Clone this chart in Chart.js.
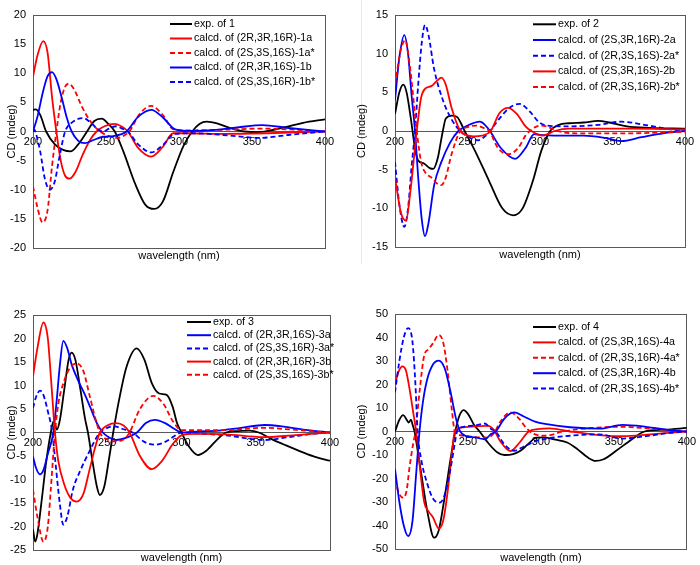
<!DOCTYPE html>
<html>
<head>
<meta charset="utf-8">
<script src="https://cdn.jsdelivr.net/npm/chart.js@4"></script>
<style>
  body { margin: 0; background: #fff; }
  #wrap { position: relative; width: 700px; height: 565px; overflow: hidden; }
  canvas { position: absolute; }
  #sep { position: absolute; left: 361px; top: 0; width: 1px; height: 264px; background: #ebebeb; }
</style>
</head>
<body>
<div id="wrap">
  <div id="sep"></div>
  <canvas id="c1" style="left:0;top:0"></canvas>
  <canvas id="c2" style="left:350px;top:0"></canvas>
  <canvas id="c3" style="left:0;top:270px"></canvas>
  <canvas id="c4" style="left:350px;top:270px"></canvas>
</div>
<script>
// CD spectra, [wavelength nm, CD mdeg]

// panel 1
const exp1 = [[200,3.7],[202,3.8],[205,2.8],[209,0],[215,-2.2],[221,-3.2],[226,-3.4],[231,-2.2],[237,0],[242,1.8],[247,2.2],[252,1.2],[256,0],[262,-3.5],[270,-9],[277,-12.6],[283,-13.3],[289,-12],[296,-7],[303,-2.5],[309,0],[314,1.3],[319,1.7],[326,1.4],[335,0.6],[345,0],[355,-0.1],[365,0.3],[375,0.9],[385,1.5],[400,2.1]];
const calc1a = [[200,9.4],[203,13],[207,15.5],[210,13.5],[213,6],[216,0],[219,-5],[222,-7.6],[225,-8.1],[229,-7],[234,-4],[239,-1.5],[243.5,0],[249,0.9],[256,1.3],[261,0.8],[265,0],[272,-2.8],[281,-4.3],[289,-2.6],[296,-0.3],[305,-0.3],[330,-0.4],[360,-0.3],[400,0]];
const calc1aS = [[200,-9.4],[203,-13],[206.5,-15.6],[210,-13.5],[213,-6],[216,0],[219,5],[222,7.7],[224.5,8.2],[228,7.3],[234,4],[240,1.5],[246,0],[252,-0.8],[258,-1.1],[263,-0.6],[266,0],[273,3],[281,4.4],[289,2.8],[296,0.4],[305,0.2],[330,0.3],[355,0.5],[380,0.3],[400,0]];
const calc1b = [[200,0],[203,2.5],[207,7],[210,9.5],[213,10.2],[216,9],[220,5.5],[223,2.5],[226.5,0],[231,-1.6],[235.5,-2.0],[241,-1.5],[248,-0.9],[255,-0.8],[260,-0.5],[264,0],[272,2.5],[281,3.7],[289,2.4],[297,0.4],[305,0.1],[320,0.2],[340,0.7],[357,1.1],[375,0.6],[400,0]];
const calc1bS = [[200,0],[201,0.3],[202,-0.3],[205,-3.5],[208,-8],[211.5,-10],[215,-8.5],[218,-4.5],[222,0],[227,1.6],[234.5,2.3],[240,1.4],[245,0.3],[248,0],[252,0.5],[257,0.9],[261,0.5],[265,0],[272,-2.2],[281,-3.6],[289,-2.3],[297,-0.4],[310,-0.3],[335,-0.7],[355,-1.1],[375,-0.6],[400,0]];

// panel 2
const exp2 = [[200,2.2],[203,5],[205.7,6],[208,5],[211,1.5],[214,-2.5],[216,-3.8],[220,-4.2],[224,-4.8],[226.4,-4.9],[229.5,-3.5],[231.5,-1.5],[233,0],[235,1.6],[239,2.0],[243,1.8],[245.5,1.0],[248,0],[255,-2.5],[265,-6.5],[274,-10],[281.6,-10.9],[288,-10],[295,-6.5],[301,-2.5],[307,0],[313,0.8],[320,1.0],[330,1.1],[340,1.3],[348,1.1],[360,0.6],[375,0.4],[400,0.3]];
const calc2a = [[200,4],[203,9.5],[206.4,12.4],[209,10],[211.5,4.5],[213.8,0],[216,-6],[218.5,-11.5],[220.7,-13.6],[223,-12],[227,-7],[232,-4],[238,-1.5],[243.7,0],[250,0.7],[258.6,1.2],[262,0.8],[265.5,0],[273,-2.2],[282.8,-3.6],[290,-2.2],[296,-0.4],[300,-0.5],[310,-0.6],[330,-0.6],[345,-0.9],[356,-1.3],[370,-0.8],[385,-0.3],[400,0]];
const calc2aS = [[200,-4],[203,-9.5],[206.4,-12.4],[209,-10],[211.5,-4.5],[213.8,0],[216,6],[218.5,11.5],[220.7,13.7],[223,12.5],[227,8],[233,4],[239,1.5],[245,0],[251,-0.8],[257.5,-1.2],[262,-0.7],[265.5,0],[272,1.6],[279,3.0],[286,3.5],[293,2.5],[299,1.2],[305,0.7],[320,0.6],[340,0.8],[356,1.2],[375,0.7],[390,0.2],[400,0]];
const calc2b = [[200,-6],[204,-10.5],[207.6,-11.6],[210.5,-8],[215,0],[218,4.3],[221,5.5],[225,5.8],[229,6.5],[232,6.9],[235,6],[239,3],[245,0],[249,-0.5],[254,-0.7],[260,-0.6],[266,0],[272,2.3],[278,3.0],[284,2.2],[290,0.6],[294,0],[302,-0.6],[310,0],[320,0.3],[360,0.3],[400,0.2]];
const calc2bS = [[200,6],[204,10.5],[207,11.7],[210.5,8],[215,0],[218,-4],[221,-5.4],[225,-6],[229,-6.8],[232,-7.0],[235,-6],[239,-3],[245,0],[250,0.5],[256,0.7],[261,0.4],[265,0],[271,-2.2],[278,-3.0],[285,-2.2],[290,-0.6],[293,0],[300,0.7],[306,0.5],[312,0],[325,-0.3],[360,-0.3],[400,-0.1]];

// panel 3
const exp3 = [[200,-20.6],[201.5,-23.2],[203,-21.5],[206,-14],[209,-6],[212,0],[213.7,2.3],[215,1.5],[216,0.6],[218,2.5],[221,9],[224,15.5],[226,17],[228.5,15.5],[232,9],[235,3],[237,0],[240,-6],[243,-11.5],[245,-13.3],[248,-11.5],[251,-6],[254,0],[258,7],[263,14],[269.8,17.9],[275,15.5],[280,10.5],[285,8.3],[290,8.0],[294,5.5],[297,2],[300,0],[305,-3],[311,-4.8],[317,-3.8],[324,-1.5],[330,0],[338,0.3],[346,0.4],[352,0],[360,-1.3],[370,-2.7],[380,-4.0],[390,-5.2],[400,-6.0]];
const calc3a = [[200,-5.1],[202,-7.5],[204.7,-8.9],[207,-8],[210,-4.5],[213.7,0],[216,7],[218,14],[220.4,19.5],[223,18],[226,14.5],[230.5,11],[235,8],[238.4,5.5],[243,2],[247,0],[251,-1],[256,-1.6],[262,-1.2],[270,0],[276,2],[282,2.7],[289,2],[295,0.8],[300,0],[310,0.2],[325,0.4],[340,1.0],[356,1.6],[370,1.2],[385,0.5],[400,0]];
const calc3aS = [[200,5.2],[202,7.5],[204.7,8.9],[207,8],[210,4.5],[213,0],[215,-6],[218,-15],[220.4,-19.6],[223,-18],[227,-12],[232,-8],[238,-4],[245,0],[250,1.0],[255,1.3],[260,0.8],[267,0],[275,-2],[282,-2.6],[289,-2],[295,-0.8],[300,0],[310,-0.2],[330,-0.6],[356,-1.6],[372,-1.0],[388,-0.3],[400,0]];
const calc3b = [[200,11.9],[203,18],[207,23.4],[210,20],[212,12],[214.8,0],[217,-6],[221,-11],[225,-13.8],[229.4,-14.7],[234,-13],[238,-8],[242,-3],[245,0],[250,1.5],[256,2.0],[261,1.5],[265,0],[272,-5],[280,-7.8],[287,-6],[294,-2.5],[300,-0.6],[310,-0.3],[330,-0.4],[355,-1.0],[375,-0.6],[400,0]];
const calc3bS = [[200,-12.2],[203,-18],[207,-23.2],[210,-20],[212,-12],[214.8,0],[217,6],[221,11],[225,13.8],[229.4,14.7],[234,13],[238,8],[242,3],[245,0],[250,-1.5],[255,-1.9],[261,-1.5],[265,0],[272,5],[281,7.8],[288,6],[294,2.5],[300,0.5],[310,0.5],[330,0.5],[355,1.0],[375,0.6],[400,0]];

// panel 4
const exp4 = [[200,0],[203,5],[205.6,7.0],[208,5],[209.3,3.8],[211,5],[212,3],[213.4,0],[216,-10],[219,-22],[222.3,-34.5],[226.8,-45.2],[230,-42],[234,-28],[238,-12],[241.3,0],[244,6.5],[247,9.1],[250,7.5],[254,3],[258,0],[264,-5],[270,-8.8],[275,-10],[281,-9.6],[286,-8.2],[291,-5.5],[297,-2.6],[302,-2.5],[310,-3.5],[318,-4.7],[325,-7.5],[332,-11],[337.4,-12.5],[343,-11.8],[352,-8],[362,-3.5],[371,0],[385,0.8],[400,1.5]];
const calc4a = [[200,20.2],[202.5,25.5],[205,27.7],[207.5,26],[210,18],[212.5,8],[214.5,0],[217,-15],[220,-30],[223,-34],[226,-36.5],[230,-41.3],[233,-38],[236,-26],[239,-9],[241,0],[245,1.6],[252,2.1],[263.7,2.4],[268,0.5],[272,-4],[279,-8.3],[285,-5],[291.6,0],[298,1.0],[306,1.3],[320,0],[340,-1.5],[356,-2],[375,-1.2],[400,0]];
const calc4aS = [[200,-20.3],[202.5,-26],[205.6,-28.2],[208,-25],[210,-15],[212.5,-5],[214,0],[217,18],[220,32.3],[223,35],[226,37.5],[230,41.1],[233,38],[236,26],[239,9],[241,0],[245,-1.6],[252,-2.2],[263.7,-2.6],[268,-0.5],[272,4],[279,8.1],[285,5.5],[290,1.5],[295,-1],[304,-1.8],[315,0],[335,1.5],[356,2.0],[375,1.2],[400,0]];
const calc4b = [[200,-16],[203,-30],[206,-40],[209,-44.5],[212,-38],[214.5,-18],[216.8,0],[219,12],[222,22],[226,28.5],[230,30.2],[234,27],[238,17],[242,5],[244.7,0],[249,-2],[255,-2.5],[261.5,-3.3],[266,-1],[269,0],[275,5.5],[281.6,8.1],[288,6.5],[296,4.2],[304,3.1],[320,1.8],[340,1.2],[356,2.8],[372,2],[388,0.6],[400,0]];
const calc4bS = [[200,16.6],[203,30],[206,40],[209,44],[212,38],[214,20],[215.5,0],[218,-12],[222,-22],[226,-28.5],[230.6,-30.3],[234,-27],[238,-16],[241,-5],[242.5,0],[247,2],[255,2.6],[261.5,3.4],[266,1],[269,0],[275,-5.5],[281.6,-8.2],[288,-6.5],[296,-4.2],[304,-3.0],[320,-1.8],[340,-1.2],[356,-3],[372,-2],[388,-0.6],[400,0]];

const labels1 = ['exp. of 1', 'calcd. of (2R,3R,16R)-1a', 'calcd. of (2S,3S,16S)-1a*', 'calcd. of (2R,3R,16S)-1b', 'calcd. of (2S,3S,16R)-1b*'];
const labels2 = ['exp. of 2', 'calcd. of (2S,3R,16R)-2a', 'calcd. of (2R,3S,16S)-2a*', 'calcd. of (2S,3R,16S)-2b', 'calcd. of (2R,3S,16R)-2b*'];
const labels3 = ['exp. of 3', 'calcd. of (2R,3R,16S)-3a', 'calcd. of (2S,3S,16R)-3a*', 'calcd. of (2R,3R,16R)-3b', 'calcd. of (2S,3S,16S)-3b*'];
const labels4 = ['exp. of 4', 'calcd. of (2S,3R,16S)-4a', 'calcd. of (2R,3S,16R)-4a*', 'calcd. of (2S,3R,16R)-4b', 'calcd. of (2R,3S,16S)-4b*'];

const BLACK = '#000000', RED = '#ff0000', BLUE = '#0000ff';
const FONT = '"Liberation Sans", Arial, sans-serif';
const AXIS = '#595959';

// Excel-like legend drawn inside the plot area, no box
const cdLegend = {
  id: 'cdLegend',
  afterDatasetsDraw(chart, args, opts) {
    const {ctx, chartArea} = chart;
    ctx.save();
    ctx.font = '10.7px ' + FONT;
    ctx.textBaseline = 'middle';
    ctx.fillStyle = '#000';
    chart.data.datasets.forEach((ds, i) => {
      const x = chartArea.left + opts.left;
      const y = chartArea.top + opts.top + i * opts.row;
      ctx.beginPath();
      ctx.strokeStyle = ds.borderColor;
      ctx.lineWidth = 2;
      ctx.setLineDash(ds.borderDash || []);
      ctx.moveTo(x, y);
      ctx.lineTo(x + opts.line, y);
      ctx.stroke();
      ctx.setLineDash([]);
      ctx.fillText(ds.label, x + opts.line + 2, y);
    });
    ctx.restore();
  }
};

function series(label, pts, color, dashed, i) {
  return {
    label: label,
    data: pts.map(p => ({x: p[0], y: p[1]})),
    borderColor: color,
    borderWidth: 1.8,
    borderDash: dashed ? [5, 3] : [],
    pointRadius: 0,
    fill: false,
    cubicInterpolationMode: 'monotone',
    order: 10 - i
  };
}

function frameAxis(pos, size, extra) {
  return Object.assign({
    type: 'linear',
    position: pos,
    display: true,
    grid: {display: false, drawTicks: false},
    ticks: {display: false},
    border: {display: true, color: AXIS, width: 1},
    afterFit: s => { if (pos === 'left' || pos === 'right') s.width = size; else s.height = size; }
  }, extra);
}

function makePanel(id, w, h, box, yMin, yMax, yStep, sets, leg) {
  const canvas = document.getElementById(id);
  canvas.width = w; canvas.height = h;
  canvas.style.width = w + 'px'; canvas.style.height = h + 'px';
  new Chart(canvas, {
    type: 'line',
    data: {datasets: sets},
    options: {
      responsive: false,
      animation: false,
      devicePixelRatio: 1,
      layout: {padding: 0},
      plugins: {legend: {display: false}, tooltip: {enabled: false}, cdLegend: leg},
      scales: {
        x: {
          type: 'linear', min: 200, max: 400,
          position: {y: 0},
          grid: {display: false, drawTicks: false},
          border: {display: true, color: AXIS, width: 1},
          ticks: {stepSize: 50, padding: 4, color: '#000', font: {family: FONT, size: 11}}
        },
        y: frameAxis('left', box.left, {
          min: yMin, max: yMax,
          ticks: {display: true, stepSize: yStep, padding: 7, color: '#000', font: {family: FONT, size: 11}},
          title: {display: true, text: 'CD (mdeg)', color: '#000', font: {family: FONT, size: 11}, padding: {top: box.ytitle, bottom: 0}}
        }),
        y2: frameAxis('right', box.right, {min: yMin, max: yMax}),
        x2: frameAxis('top', box.top, {min: 200, max: 400}),
        x3: frameAxis('bottom', box.bottom, {
          min: 200, max: 400,
          title: {display: true, text: 'wavelength (nm)', color: '#000', font: {family: FONT, size: 11}, padding: {top: 0, bottom: box.xtitle}}
        })
      }
    },
    plugins: [cdLegend]
  });
}

makePanel('c1', 355, 265, {left: 33, right: 30, top: 15, bottom: 17, ytitle: 5, xtitle: 2.4}, -20, 20, 5, [
  series(labels1[0], exp1, BLACK, false, 0),
  series(labels1[1], calc1a, RED, false, 1),
  series(labels1[2], calc1aS, RED, true, 2),
  series(labels1[3], calc1b, BLUE, false, 3),
  series(labels1[4], calc1bS, BLUE, true, 4)
], {left: 137, top: 9, row: 14.5, line: 22});

makePanel('c2', 350, 265, {left: 45, right: 15, top: 15, bottom: 18, ytitle: 5, xtitle: 3.4}, -15, 15, 5, [
  series(labels2[0], exp2, BLACK, false, 0),
  series(labels2[1], calc2a, BLUE, false, 1),
  series(labels2[2], calc2aS, BLUE, true, 2),
  series(labels2[3], calc2b, RED, false, 3),
  series(labels2[4], calc2bS, RED, true, 4)
], {left: 138, top: 9.3, row: 15.7, line: 23});

makePanel('c3', 355, 295, {left: 33, right: 25, top: 45, bottom: 15, ytitle: 5, xtitle: 0.4}, -25, 25, 5, [
  series(labels3[0], exp3, BLACK, false, 0),
  series(labels3[1], calc3a, BLUE, false, 1),
  series(labels3[2], calc3aS, BLUE, true, 2),
  series(labels3[3], calc3b, RED, false, 3),
  series(labels3[4], calc3bS, RED, true, 4)
], {left: 154, top: 7, row: 13.2, line: 24});

makePanel('c4', 350, 295, {left: 45, right: 7, top: 44, bottom: 16, ytitle: 5, xtitle: 0.4}, -50, 50, 10, [
  series(labels4[0], exp4, BLACK, false, 0),
  series(labels4[1], calc4a, RED, false, 1),
  series(labels4[2], calc4aS, RED, true, 2),
  series(labels4[3], calc4b, BLUE, false, 3),
  series(labels4[4], calc4bS, BLUE, true, 4)
], {left: 138, top: 13, row: 15.4, line: 23});
</script>
</body>
</html>
